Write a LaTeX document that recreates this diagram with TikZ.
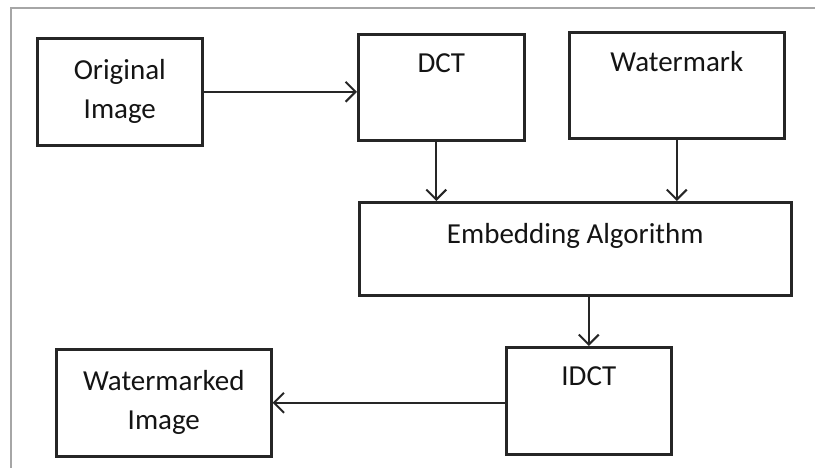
\documentclass[tikz,border=0pt]{standalone}
\usepackage{fontspec}
\setmainfont{Carlito}
\usetikzlibrary{arrows.meta}

\definecolor{boxline}{HTML}{262626}
\definecolor{frameline}{HTML}{A6A6A6}

\tikzset{
  blockbox/.style={draw=boxline, line width=2.6pt, inner sep=0pt, anchor=north west, align=center},
  toplabel/.style={anchor=north, inner sep=0pt, yshift=-20pt},
  flow/.style={draw=boxline, line width=2pt, -{Straight Barb[length=10pt,width=20pt,line width=2pt]}}
}

\begin{document}
\begin{tikzpicture}[x=1pt, y=-1pt, font=\fontsize{29}{39}\selectfont, text=black!92]
        \useasboundingbox (0,0) rectangle (815,468);
        % frame
        \draw[frameline, line width=2.4pt] (11,468) -- (11,8) -- (815,8);

        % blocks
        \node[blockbox, minimum width=165pt, minimum height=107pt] (orig) at (36,37) {Original\\Image};
        \node[blockbox, minimum width=166pt, minimum height=106pt,
              label={[toplabel]north:DCT}] (dct) at (357,33) {};
        \node[blockbox, minimum width=215pt, minimum height=106pt,
              label={[toplabel]north:Watermark}] (wm) at (568,31) {};
        \node[blockbox, minimum width=432pt, minimum height=93pt,
              label={[toplabel, yshift=-2pt]north:Embedding Algorithm}] (emb) at (358,201) {};
        \node[blockbox, minimum width=165pt, minimum height=107pt,
              label={[toplabel]north:IDCT}] (idct) at (505,346) {};
        \node[blockbox, minimum width=215pt, minimum height=107pt] (wmd) at (55,348) {Watermarked\\Image};

        % arrows
        \draw[flow] (orig.east) -- (orig.east -| dct.west);
        \draw[flow] ([xshift=-5pt]dct.south) -- ([xshift=-5pt]dct.south |- emb.north);
        \draw[flow] (wm.south) -- (wm.south |- emb.north);
        \draw[flow] (idct.north |- emb.south) -- (idct.north);
        \draw[flow] (idct.west |- wmd.east) -- (wmd.east);
    \end{tikzpicture}
\end{document}
